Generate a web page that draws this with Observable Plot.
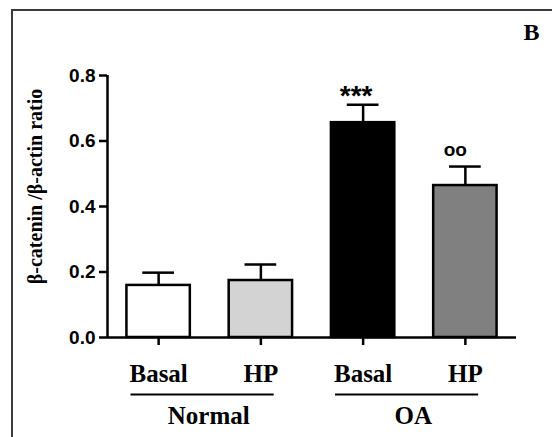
<!DOCTYPE html>
<html>
<head>
<meta charset="utf-8">
<script src="https://cdn.jsdelivr.net/npm/d3@7"></script>
<script src="https://cdn.jsdelivr.net/npm/@observablehq/plot@0.6"></script>
<style>
  html, body { margin: 0; padding: 0; background: #fff; }
  #wrap { position: relative; width: 552px; height: 437px; overflow: hidden; }
  #border { position: absolute; left: 11px; top: 9px; width: 700px; height: 600px;
            border-top: 2px solid #3c3c3c; border-left: 2px solid #3c3c3c; pointer-events: none; }
</style>
</head>
<body>
<div id="wrap"><div id="border"></div></div>
<script>
const categories = ["Basal", "HP", "Basal", "HP"];
const groups = ["Normal", "Normal", "OA", "OA"];
const means = [0.159, 0.174, 0.656, 0.464];
const sems = [0.039, 0.049, 0.055, 0.058];
const significance = ["", "", "***", "oo"];
const groupLabels = ["Normal", "OA"];
const yTicks = [0, 0.2, 0.4, 0.6, 0.8];
const yLabel = "β-catenin /β-actin ratio";
const panelLabel = "B";

const data = categories.map((c, k) => ({
  i: k + 1, key: groups[k] + " " + c, cat: c, group: groups[k],
  mean: means[k], sem: sems[k], upper: means[k] + sems[k], sig: significance[k]
}));
const groupData = groupLabels.map(g => {
  const idx = data.filter(d => d.group === g).map(d => d.i);
  return {g, first: d3.min(idx), last: d3.max(idx), mid: d3.mean(idx)};
});

const serif = "'Times New Roman', 'Liberation Serif', serif";
const sans = "Arial, 'Liberation Sans', sans-serif";

const chart = Plot.plot({
  width: 552, height: 437,
  marginLeft: 107, marginRight: 36, marginTop: 75, marginBottom: 100,
  x: {domain: [0.5, 4.5], axis: null},
  y: {domain: [0, 0.8], axis: null},
  color: {type: "ordinal", domain: data.map(d => d.key), range: ["#ffffff", "#d3d3d3", "#000000", "#808080"]},
  style: {background: "transparent", overflow: "visible"},
  marks: [
    Plot.ruleX(data, {x: "i", y1: "mean", y2: "upper", stroke: "black", strokeWidth: 2.5}),
    Plot.ruleY(data, {y: "upper", x1: d => d.i - 0.155, x2: d => d.i + 0.155, stroke: "black", strokeWidth: 2.5}),
    Plot.rect(data, {x1: d => d.i - 0.31, x2: d => d.i + 0.31, y1: 0, y2: "mean", fill: "key", stroke: "black", strokeWidth: 2.5}),
    Plot.ruleY([0], {stroke: "black", strokeWidth: 2.5}),
    Plot.ruleX([0.5], {y1: 0, y2: 0.8, stroke: "black", strokeWidth: 2.5}),
    Plot.axisY({ticks: yTicks, tickFormat: d3.format(".1f"), tickSize: 8, tickPadding: 4,
      fontSize: 19, fontWeight: "bold", fontFamily: sans, strokeWidth: 2.5, label: null, fill: "black"}),
    Plot.axisX({ticks: data.map(d => d.i), tickFormat: t => categories[t - 1], tickSize: 8, tickPadding: 19,
      fontSize: 25, fontWeight: "bold", fontFamily: serif, strokeWidth: 2.5, label: null, fill: "black"}),
    Plot.ruleY(groupData, {y: 0, x1: d => d.first - 0.27, x2: d => d.last + 0.13, dy: 57, stroke: "black", strokeWidth: 2}),
    Plot.text(groupData, {x: d => d.mid - 0.01, y: 0, text: "g", dy: 78, fontSize: 25, fontWeight: "bold", fontFamily: serif, fill: "black"}),
    Plot.text(data.filter(d => d.sig === "***"), {x: "i", y: "upper", text: "sig", dx: -7, dy: -9, fontSize: 28, fontWeight: "bold", fontFamily: sans, fill: "black"}),
    Plot.text(data.filter(d => d.sig === "oo"), {x: "i", y: "upper", text: "sig", dx: -10, dy: -17, fontSize: 19, fontWeight: "bold", fontFamily: sans, fill: "black"}),
    Plot.text([yLabel], {frameAnchor: "left", textAnchor: "middle", lineAnchor: "middle", rotate: -90, dx: -72, dy: -20,
      fontSize: 20, fontWeight: "bold", fontFamily: serif, fill: "black"}),
    Plot.text([panelLabel], {frameAnchor: "top-right", textAnchor: "middle", lineAnchor: "middle", dx: 15, dy: -43,
      fontSize: 24, fontWeight: "bold", fontFamily: serif, fill: "black"})
  ]
});
document.getElementById("wrap").appendChild(chart);
chart.style.position = "absolute";
chart.style.left = "0px";
chart.style.top = "0px";
</script>
</body>
</html>
